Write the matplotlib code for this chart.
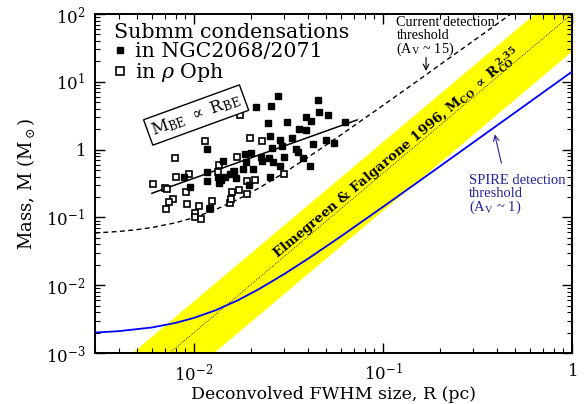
import matplotlib
matplotlib.use('Agg')
import matplotlib.pyplot as plt

plt.rcParams['font.family'] = ['DejaVu Serif']
plt.rcParams['mathtext.fontset'] = 'dejavuserif'

# ---------------- data ----------------
# Submm condensations in NGC2068/2071 (filled squares)
ngc_R = [0.0279, 0.0453, 0.0213, 0.0255, 0.0458, 0.0513, 0.0393, 0.0418, 0.0247, 0.0310,
         0.0360, 0.0393, 0.0252, 0.0285, 0.0329, 0.0428, 0.0499, 0.0554, 0.0260, 0.0292,
         0.0346, 0.0355, 0.0118, 0.0143, 0.0187, 0.0200, 0.0226, 0.0250, 0.0263, 0.0300,
         0.0378, 0.0409, 0.0188, 0.0183, 0.0206, 0.0229, 0.0117, 0.0117, 0.0134, 0.0139,
         0.0147, 0.0155, 0.0164, 0.0167, 0.0135, 0.0285, 0.0253, 0.0095, 0.0089, 0.0196,
         0.0121, 0.0633]
ngc_M = [6.25, 5.39, 4.30, 4.45, 3.63, 3.24, 3.06, 2.64, 2.44, 2.52,
         2.01, 1.95, 1.59, 1.39, 1.50, 1.20, 1.39, 1.24, 1.07, 1.14,
         1.02, 0.93, 1.02, 0.69, 0.85, 0.88, 0.79, 0.74, 0.66, 0.79,
         0.74, 0.57, 0.66, 0.52, 0.52, 0.68, 0.46, 0.35, 0.39, 0.36,
         0.39, 0.44, 0.48, 0.38, 0.32, 0.57, 0.40, 0.28, 0.40, 0.30,
         0.136, 2.58]

# Submm condensations in rho Oph (open squares)
oph_R = [0.0176, 0.0114, 0.0198, 0.0228, 0.0079, 0.0169, 0.0061, 0.0070, 0.0072, 0.0080,
         0.0078, 0.0074, 0.0071, 0.0091, 0.0092, 0.0094, 0.0106, 0.0124, 0.0102, 0.0102,
         0.0109, 0.0122, 0.0136, 0.0134, 0.0160, 0.0155, 0.0158, 0.0164, 0.0190, 0.0210,
         0.0174, 0.0192, 0.0300]
oph_M = [3.28, 1.34, 1.47, 1.34, 0.76, 0.79, 0.31, 0.27, 0.26, 0.40,
         0.19, 0.167, 0.132, 0.234, 0.158, 0.437, 0.147, 0.176, 0.115, 0.100,
         0.095, 0.133, 0.59, 0.47, 0.234, 0.161, 0.19, 0.47, 0.34, 0.36,
         0.25, 0.22, 0.43]

# M_BE proportional to R_BE line
be_R = [0.006, 0.073]
be_M = [0.227, 2.74]

# Current detection threshold (A_V ~ 15), dashed
cur_R = [0.003, 0.004, 0.005, 0.006, 0.008, 0.01, 0.013, 0.017, 0.022, 0.03,
         0.04, 0.06, 0.1, 0.15, 0.2, 0.3, 0.475]
cur_M = [0.0589, 0.0620, 0.0660, 0.0709, 0.0833, 0.0992, 0.130, 0.183, 0.269, 0.454,
         0.764, 1.65, 4.48, 10.0, 17.8, 39.9, 100.0]

# SPIRE detection threshold (A_V ~ 1), blue
spire_R = [0.003, 0.004, 0.006, 0.008, 0.01, 0.013, 0.017, 0.022, 0.03, 0.04,
           0.06, 0.1, 0.15, 0.2, 0.3, 0.5, 0.7, 1.0]
spire_M = [0.00200, 0.00210, 0.00238, 0.00278, 0.00329, 0.00426, 0.00595, 0.00870, 0.01457, 0.0244,
           0.0526, 0.1429, 0.319, 0.566, 1.271, 3.527, 6.911, 14.10]

# Elmegreen & Falgarone 1996 relation and its spread (yellow band)
eg_R = [0.003, 1.0]
eg_M = [1.18e-4, 100.0]
eg_hi = [3.4e-4, 288.0]
eg_lo = [3.3e-5, 27.8]

x_ticks = [0.01, 0.1, 1]
x_ticklabels = [r'$10^{-2}$', r'$10^{-1}$', r'$1$']
y_ticks = [1e-3, 1e-2, 1e-1, 1, 10, 100]
y_ticklabels = [r'$10^{-3}$', r'$10^{-2}$', r'$10^{-1}$', r'$1$', r'$10^{1}$', r'$10^{2}$']

# ---------------- figure ----------------
fig = plt.figure(figsize=(5.88, 4.04), dpi=100)
ax = fig.add_axes([95/588, 51/404, 477/588, 339/404])
ax.set_xscale('log')
ax.set_yscale('log')

ax.fill_between(eg_R, eg_lo, eg_hi, color='#ffff00', lw=0, zorder=1)
ax.plot(eg_R, eg_M, color='black', lw=0.6, ls=(0, (1, 1.5)), zorder=2)
ax.plot(spire_R, spire_M, color='#0000ff', lw=1.3, zorder=3)
ax.plot(cur_R, cur_M, color='black', lw=1.0, ls=(0, (3.5, 2.5)), zorder=3)
ax.plot(be_R, be_M, color='black', lw=1.1, zorder=3)
h_oph, = ax.plot(oph_R, oph_M, ls='none', marker='s', ms=5, mfc='white', mec='black',
                 mew=1.2, zorder=4)
h_ngc, = ax.plot(ngc_R, ngc_M, ls='none', marker='s', ms=4.6, color='black', zorder=5)

ax.set_xlim(0.003, 1)
ax.set_ylim(1e-3, 100)
ax.set_xticks(x_ticks)
ax.set_xticklabels(x_ticklabels)
ax.set_yticks(y_ticks)
ax.set_yticklabels(y_ticklabels)
ax.tick_params(which='both', direction='in', top=True, right=True)
ax.tick_params(which='major', length=7, width=1.0, labelsize=12, pad=7)
ax.tick_params(which='minor', length=3.5, width=0.8)
for s in ax.spines.values():
    s.set_linewidth(1.4)

ax.set_xlabel('Deconvolved FWHM size, R (pc)', fontsize=12.5, labelpad=1)
ax.set_ylabel(r'Mass, M (M$_\odot$)', fontsize=13, labelpad=6)

leg = ax.legend([h_ngc, h_oph], ['in NGC2068/2071', r'in $\rho$ Oph'],
                loc='upper left', bbox_to_anchor=(0.040, 0.973),
                title='Submm condensations', alignment='left', frameon=False,
                handlelength=0.55, handletextpad=0.45, borderpad=0, borderaxespad=0,
                labelspacing=0.0, fontsize=14.8, title_fontsize=14.8, markerscale=1.05)

ax.text(0.212, 0.702, r'M$_{\rm BE}$ $\propto$ R$_{\rm BE}$', transform=ax.transAxes,
        rotation=20, rotation_mode='anchor', ha='center', va='center', fontsize=12,
        bbox=dict(boxstyle='square,pad=0.25', fc='white', ec='black', lw=1.0), zorder=6)

ax.text(0.631, 0.589,
        r'Elmegreen & Falgarone 1996, $\mathbf{M_{CO}\ \propto\ R_{CO}^{\ 2.35}}$',
        transform=ax.transAxes, rotation=40, rotation_mode='anchor', ha='center',
        va='center', fontsize=9.5, fontweight='bold', zorder=6)

ax.text(0.632, 0.994, 'Current detection\nthreshold\n(A$_{\\rm V}$ ~ 15)',
        transform=ax.transAxes, ha='left', va='top', fontsize=10.3,
        family='Liberation Serif', linespacing=0.95, math_fontfamily='stix', zorder=6)
ax.annotate('', xy=(0.694, 0.832), xytext=(0.694, 0.872), xycoords='axes fraction',
            arrowprops=dict(arrowstyle='->', lw=0.8, color='black', shrinkA=0, shrinkB=0))

navy = '#23239a'
ax.text(0.784, 0.528, 'SPIRE detection\nthreshold\n(A$_{\\rm V}$ ~ 1)',
        transform=ax.transAxes, ha='left', va='top', fontsize=10.5, color=navy,
        family='Liberation Serif', linespacing=0.95, math_fontfamily='stix', zorder=6)
ax.annotate('', xy=(0.838, 0.645), xytext=(0.852, 0.560), xycoords='axes fraction',
            arrowprops=dict(arrowstyle='->', lw=0.8, color=navy, shrinkA=0, shrinkB=0))

fig.savefig('out.png', dpi=100)
